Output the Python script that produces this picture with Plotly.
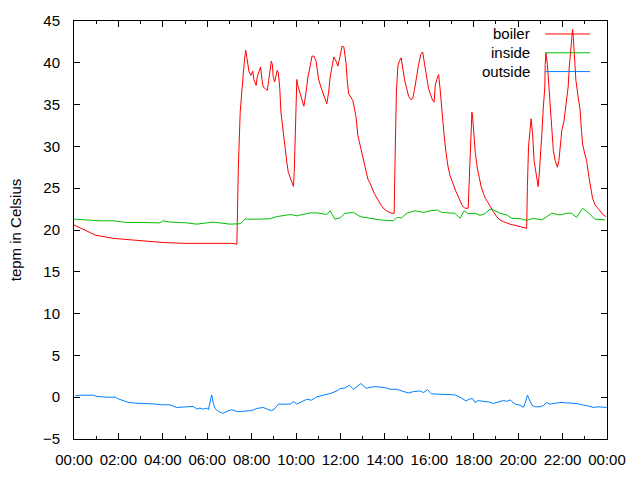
import plotly.graph_objects as go

DAY = "2013-01-01 "

boiler_time = ["00:00","00:16","00:30","00:43","00:57","01:10","01:28","01:46","02:13","03:07","04:01","05:04","07:06","07:20",
    "07:22","07:24","07:29","07:34","07:37","07:41","07:44","07:47","07:53","07:58","08:03","08:06","08:12","08:15","08:21","08:24",
    "08:28","08:31","08:37","08:42","08:46","08:50","08:53","08:56","08:58","09:02","09:06","09:09","09:12","09:16","09:19","09:24",
    "09:27","09:31","09:35","09:39","09:44","09:47","09:53","09:55","09:58","10:02","10:04","10:09","10:13","10:18","10:21","10:27",
    "10:32","10:38","10:43","10:48","10:54","10:57","11:01","11:07","11:12","11:17","11:23","11:28","11:32","11:37","11:42","11:48",
    "11:53","11:59","12:04","12:09","12:15","12:18","12:22","12:28","12:33","12:37","12:42","12:47","12:53","12:58","13:04","13:09",
    "13:14","13:20","13:25","13:31","13:36","13:41","13:47","13:52","13:58","14:08","14:19","14:25","14:26","14:28","14:31","14:35",
    "14:39","14:44","14:48","14:53","14:59","15:04","15:10","15:15","15:20","15:26","15:31","15:37","15:42","15:48","15:53","15:58",
    "16:04","16:09","16:13","16:16","16:20","16:25","16:29","16:34","16:40","16:45","16:50","16:56","17:01","17:07","17:12","17:18",
    "17:23","17:28","17:36","17:45","17:48","17:51","17:55","17:57","18:00","18:04","18:10","18:15","18:20","18:26","18:31","18:37",
    "18:42","18:44","18:53","19:02","19:11","19:20","19:29","19:38","19:47","19:56","20:05","20:14","20:23","20:25","20:28","20:35",
    "20:37","20:39","20:43","20:48","20:54","20:57","21:01","21:04","21:08","21:12","21:13","21:15","21:19","21:23","21:26","21:30",
    "21:35","21:40","21:46","21:50","21:53","21:58","22:04","22:09","22:15","22:18","22:22","22:26","22:27","22:29","22:33","22:36",
    "22:42","22:47","22:51","22:54","23:00","23:05","23:11","23:16","23:21","23:28","23:36","23:43","23:50","23:57"]
boiler_temp = [20.6,20.3,20.0,19.7,19.4,19.3,19.1,19.0,18.9,18.7,18.5,18.4,18.4,18.3,
    23.8,27.5,34.1,36.3,38.5,40.5,41.5,40.6,38.9,38.5,39.0,38.0,37.3,38.3,39.2,39.5,
    38.0,37.1,36.9,36.7,37.9,39.2,40.2,39.8,38.4,37.7,38.7,39.1,38.8,36.9,34.1,32.1,
    30.5,28.9,28.1,26.9,26.3,25.8,25.2,26.9,33.3,38.0,37.4,36.7,36.1,35.3,34.8,36.5,
    38.3,39.6,40.8,40.8,40.2,39.2,38.0,37.1,36.5,35.9,35.1,36.5,38.3,39.5,40.7,40.2,
    39.6,40.8,42.0,41.9,40.0,38.0,36.3,35.9,35.5,34.7,33.5,31.3,30.1,28.9,27.9,26.9,
    26.1,25.6,25.0,24.4,24.0,23.6,23.2,22.8,22.5,22.2,22.0,22.0,25.0,30.7,36.5,39.6,
    40.2,40.6,39.2,38.0,36.9,36.0,35.6,35.7,36.8,38.5,39.8,41.0,41.3,39.6,38.0,36.9,
    36.1,35.5,35.3,37.3,38.0,38.6,36.9,34.1,31.3,29.3,27.7,26.5,25.8,25.2,24.6,24.0,
    23.5,23.0,22.6,22.6,26.1,29.7,34.1,33.5,31.3,29.3,27.3,26.1,25.2,24.4,23.8,23.4,
    23.0,22.8,22.2,21.6,21.2,21.0,20.8,20.7,20.6,20.5,20.4,20.3,20.2,25.2,30.0,33.3,
    32.5,31.5,28.3,26.7,25.2,26.7,29.1,31.5,34.7,37.1,39.8,41.2,39.8,37.1,34.3,31.9,
    29.5,28.3,27.5,28.3,29.9,31.9,33.1,35.1,37.1,39.5,41.8,43.8,44.0,43.0,39.8,37.9,
    35.9,34.5,31.9,30.3,29.1,28.3,26.4,24.8,23.8,23.0,22.6,22.2,21.8,21.6]

inside_time = ["00:00","00:34","01:10","01:46","02:22","02:58","03:52","04:01","04:19","05:04","05:32","06:16","07:01","07:29",
    "07:42","08:23","08:50","09:08","09:44","10:02","10:38","10:56","11:23","11:32","11:45","11:59","12:12","12:35","12:53","13:20",
    "13:47","14:23","14:32","14:45","14:59","15:21","15:44","16:02","16:22","16:33","17:09","17:23","17:34","17:45","18:03","18:17",
    "18:30","18:44","18:53","19:11","19:29","19:43","20:05","20:23","20:41","21:04","21:31","21:53","22:11","22:24","22:38","22:54",
    "23:09","23:27","23:55"]
inside_temp = [21.3,21.2,21.1,21.1,20.9,20.9,20.85,21.1,20.95,20.85,20.7,20.95,20.7,20.75,
    21.3,21.3,21.35,21.6,21.85,21.7,22.05,22.05,21.85,22.3,21.3,21.45,22.0,22.1,21.6,21.4,
    21.2,21.1,21.5,21.45,22.0,22.3,22.1,22.3,22.4,22.1,22.0,21.4,22.3,21.95,22.0,21.75,
    21.95,22.5,22.4,22.0,21.8,21.4,21.35,21.15,21.4,21.2,22.0,21.8,22.0,22.0,21.5,22.6,
    22.1,21.3,21.2]

outside_time = ["00:03","00:16","00:52","01:01","01:28","01:51","02:00","02:13","02:27","02:45","03:16","03:43","03:57","04:19",
    "04:37","05:22","05:32","05:40","05:49","05:59","06:03","06:12","06:16","06:21","06:30","06:42","06:53","07:06","07:20","07:33",
    "08:00","08:14","08:31","08:45","08:54","09:03","09:12","09:44","09:53","10:02","10:11","10:29","10:42","10:56","11:14","11:32",
    "11:50","11:59","12:12","12:24","12:35","12:44","12:55","13:09","13:20","13:33","14:00","14:14","14:32","14:45","15:03","15:17",
    "15:35","15:44","15:55","16:06","16:29","17:09","17:23","17:39","17:48","17:57","18:03","18:12","18:26","18:40","18:53","19:07",
    "19:20","19:29","19:38","19:52","20:05","20:14","20:19","20:25","20:30","20:37","20:45","20:59","21:08","21:17","21:26","21:40",
    "21:53","22:20","22:38","22:56","23:05","23:23","23:36","23:59"]
outside_temp = [0.16,0.24,0.24,0.1,0.0,0.0,-0.2,-0.44,-0.63,-0.7,-0.75,-0.83,-0.91,-0.91,
    -1.23,-1.1,-1.43,-1.3,-1.43,-1.3,-1.5,0.28,-0.63,-1.35,-1.7,-1.94,-1.7,-1.5,-1.7,-1.7,
    -1.6,-1.35,-1.23,-1.5,-1.63,-1.35,-0.83,-0.83,-0.52,-0.83,-0.63,-0.24,-0.36,0.04,0.24,0.44,
    0.75,1.03,1.1,1.43,0.95,1.27,1.63,1.07,1.15,1.27,1.15,0.95,0.95,0.75,0.5,0.67,
    0.75,0.55,0.91,0.4,0.36,0.28,0.0,-0.44,-0.24,-0.16,-0.63,-0.4,-0.5,-0.55,-0.75,-0.55,
    -0.4,-0.5,-0.32,-0.83,-0.95,-1.23,-0.7,0.24,-0.36,-0.95,-1.15,-1.15,-1.0,-0.63,-0.83,-0.7,
    -0.63,-0.7,-0.75,-0.95,-1.0,-1.23,-1.15,-1.23]

series_names = ["boiler", "inside", "outside"]
series_colors = ["#ff0000", "#00c000", "#0080ff"]
x_tick_labels = ["00:00","02:00","04:00","06:00","08:00","10:00","12:00","14:00","16:00","18:00","20:00","22:00","00:00"]
y_ticks = [-5, 0, 5, 10, 15, 20, 25, 30, 35, 40, 45]

FONT = "Liberation Sans, Arial, sans-serif"
FS = 15

def ts(lst):
    return [DAY + t for t in lst]

fig = go.Figure()
data = [(boiler_time, boiler_temp), (inside_time, inside_temp), (outside_time, outside_temp)]
for (t, v), name, col in zip(data, series_names, series_colors):
    fig.add_trace(go.Scatter(x=ts(t), y=v, mode="lines", name=name,
                             line=dict(color=col, width=1), showlegend=False))

tick_vals = [DAY + "%02d:00" % (2 * i) for i in range(12)] + ["2013-01-02 00:00"]

fig.update_layout(
    width=640, height=480,
    margin=dict(l=74, r=33, t=20, b=40),
    paper_bgcolor="white", plot_bgcolor="white",
    font=dict(family=FONT, size=FS, color="black"),
    xaxis=dict(
        range=[DAY + "00:00", "2013-01-02 00:00"],
        tickmode="array", tickvals=tick_vals, ticktext=x_tick_labels,
        ticks="inside", ticklen=6, tickcolor="black", tickwidth=1,
        showline=True, linecolor="black", linewidth=1, mirror="allticks",
        showgrid=False, zeroline=False, ticklabelstandoff=7,
        minor=dict(dtick=3600000, ticks="inside", ticklen=3, tickcolor="black", showgrid=False),
        tickfont=dict(size=FS),
    ),
    yaxis=dict(
        range=[-5, 45], tickmode="array", tickvals=y_ticks,
        ticks="inside", ticklen=6, tickcolor="black", tickwidth=1,
        showline=True, linecolor="black", linewidth=1, mirror="allticks",
        showgrid=False, zeroline=False, ticklabelstandoff=10,
        title=dict(text="tepm in Celsius", font=dict(size=FS), standoff=17),
        tickfont=dict(size=FS),
    ),
)

# gnuplot-style key: text right-aligned, line sample to the right
key_y = [0.969, 0.924, 0.879]
for name, col, yy in zip(series_names, series_colors, key_y):
    fig.add_annotation(x=0.859, y=yy, xref="paper", yref="paper", text=name,
                       showarrow=False, xanchor="right", yanchor="middle",
                       font=dict(size=FS, color="black", family=FONT))
    fig.add_shape(type="line", xref="paper", yref="paper", x0=0.884, x1=0.968,
                  y0=yy, y1=yy, line=dict(color=col, width=1))

fig.write_html("out.html")
